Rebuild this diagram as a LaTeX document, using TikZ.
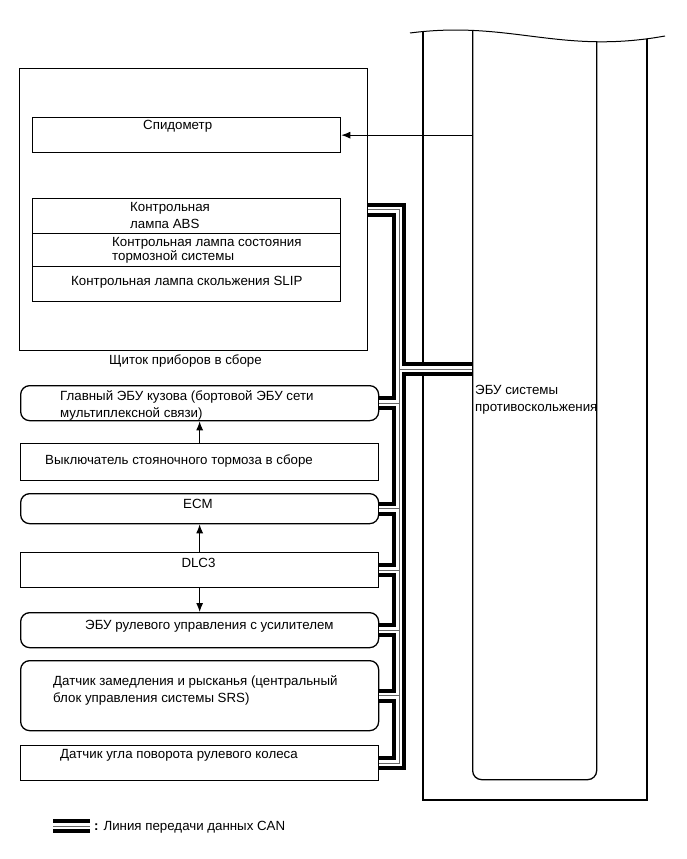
\documentclass[tikz,border=0pt]{standalone}
\usepackage{fontspec}
\setmainfont{Liberation Sans}
\usetikzlibrary{arrows.meta}

% CAN line, drawn three times (black, white, thin)
\newcommand\canbus{(clu.east) -- (clu.east -| trk) -- (ugl.east -| trk) -- (ugl.east)
  (tap) -- (tap -| ecu.west)
  (gl.east) -- (gl.east -| trk)
  (ecm.east) -- (ecm.east -| trk)
  (dlc.east) -- (dlc.east -| trk)
  (eps.east) -- (eps.east -| trk)
  (yaw.east) -- (yaw.east -| trk)
  (lg1) -- (lg2)}

\begin{document}
\begin{tikzpicture}[x=1pt,y=-1pt,
  box/.style={draw,line width=1.3pt,inner sep=0pt,anchor=north west},
  rbox/.style={box,rounded corners=9pt},
  txt/.style={anchor=base west,inner sep=0pt,align=left,font=\fontsize{13.3}{17}\selectfont},
  arr/.style={-{Latex[length=9pt,width=7pt]},line width=1pt},
  canA/.style={line width=14pt,black},
  canB/.style={line width=6pt,white},
  canC/.style={line width=1pt,black!60}]
\useasboundingbox (0,0) rectangle (687,859);

% instrument cluster
\node[box,line width=1pt,minimum width=348pt,minimum height=282pt] (clu) at (19,68) {};
\node[box,minimum width=308pt,minimum height=35pt] (spd) at (32,117) {};
\node[box,minimum width=308pt,minimum height=35pt] (abs) at (32,198) {};
\node[box,minimum width=308pt,minimum height=33pt] (brk) at (32,233) {};
\node[box,minimum width=308pt,minimum height=35pt] (slp) at (32,266) {};

% devices on the left
\node[rbox,minimum width=358pt,minimum height=35pt] (gl) at (20,385) {};
\node[box,minimum width=358pt,minimum height=37pt] (vyk) at (20,443) {};
\node[rbox,minimum width=358pt,minimum height=30pt] (ecm) at (20,493) {};
\node[box,minimum width=358pt,minimum height=35pt] (dlc) at (20,552) {};
\node[rbox,minimum width=358pt,minimum height=35pt] (eps) at (20,612) {};
\node[rbox,minimum width=358pt,minimum height=70pt] (yaw) at (20,660) {};
\node[box,minimum width=358pt,minimum height=35pt] (ugl) at (20,745) {};

% skid control ECU (cut at the top)
\begin{scope}
\clip (410,33) .. controls (510,20) and (560,55) .. (665,36) -- (665,859) -- (410,859) -- cycle;
\draw[line width=1.3pt] (423,0) rectangle (647,800);
\node[rbox,minimum width=124pt,minimum height=779pt] (ecu) at (472,0) {};
\end{scope}
\draw[line width=1pt] (410,33) .. controls (510,20) and (560,55) .. (665,36);

\coordinate (trk) at (399,0);
\coordinate (tap) at (399,369);
\coordinate (lg1) at (53,826);
\coordinate (lg2) at (90,826);

\draw[canA] \canbus;
\draw[canB] \canbus;
\draw[canC] \canbus;

\draw[arr] (spd.east -| ecu.west) -- (spd.east);
\draw[arr] (vyk.north) -- (gl.south);
\draw[arr] (dlc.north) -- (ecm.south);
\draw[arr] (dlc.south) -- (eps.north);

% labels (base = last line)
\node[txt] (spdt) at (143,129.5) {Спидометр};
\node[txt] (abst) at (130,228.6) {Контрольная\\лампа ABS};
\node[txt,font=\fontsize{13.3}{14}\selectfont] (brkt) at (112,260.6) {Контрольная лампа состояния\\тормозной системы};
\node[txt] (slpt) at (71,285.3) {Контрольная лампа скольжения SLIP};
\node[txt] (clut) at (109,364.3) {Щиток приборов в сборе};
\node[txt] (glt) at (60,417) {Главный ЭБУ кузова (бортовой ЭБУ сети\\мультиплексной связи)};
\node[txt] (vykt) at (45,464.3) {Выключатель стояночного тормоза в сборе};
\node[txt,anchor=base] (ecmt) at (198,508.6) {ECM};
\node[txt,anchor=base] (dlct) at (198.5,567.6) {DLC3};
\node[txt] (epst) at (85,629.3) {ЭБУ рулевого управления с усилителем};
\node[txt] (yawt) at (53,702.3) {Датчик замедления и рысканья (центральный\\блок управления системы SRS)};
\node[txt] (uglt) at (60,758.6) {Датчик угла поворота рулевого колеса};
\node[txt] (ecut) at (475,411.3) {ЭБУ системы\\противоскольжения};
\node[txt] (lgt) at (94,830) {\textbf{:} Линия передачи данных CAN};
\end{tikzpicture}
\end{document}
